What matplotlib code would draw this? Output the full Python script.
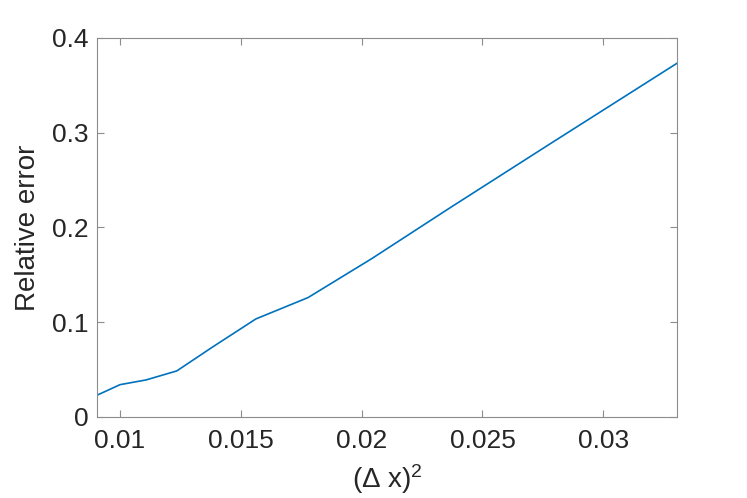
import matplotlib
matplotlib.use("Agg")
import matplotlib.pyplot as plt

# (Δx)^2 values and relative error
dx2 = [0.00907, 0.01000, 0.01108, 0.01235, 0.01384, 0.015625, 0.01778,
       0.02041, 0.02367, 0.02778, 0.03306]
rel_err = [0.0232, 0.0341, 0.0391, 0.0486, 0.0740, 0.1035, 0.1260,
           0.1670, 0.2210, 0.2880, 0.3735]

xticks = [0.01, 0.015, 0.02, 0.025, 0.03]
xticklabels = ["0.01", "0.015", "0.02", "0.025", "0.03"]
yticks = [0, 0.1, 0.2, 0.3, 0.4]
yticklabels = ["0", "0.1", "0.2", "0.3", "0.4"]

plt.rcParams['font.family'] = ['Liberation Sans', 'DejaVu Sans']
plt.rcParams['mathtext.fontset'] = 'custom'
plt.rcParams['mathtext.rm'] = 'Liberation Sans'
plt.rcParams['mathtext.it'] = 'Liberation Sans'

fig = plt.figure(figsize=(7.47, 4.98), dpi=100)
ax = fig.add_axes([0.1299, 0.1627, 0.7764, 0.7610])
ax.plot(dx2, rel_err, color='#0072BD', lw=1.2)

ax.set_xlim(0.00905, 0.03305)
ax.set_ylim(0, 0.4)
ax.set_xticks(xticks)
ax.set_xticklabels(xticklabels)
ax.set_yticks(yticks)
ax.set_yticklabels(yticklabels)

tc = '#262626'
ax.tick_params(direction='in', top=True, right=True, length=5, width=0.8,
               color='#8c8c8c', labelsize=19, labelcolor=tc)
ax.tick_params(axis='x', pad=9)
ax.tick_params(axis='y', pad=6)
for s in ax.spines.values():
    s.set_color('#8c8c8c')
    s.set_linewidth(0.8)

ax.set_xlabel(r'($\Delta$ x)$^2$', fontsize=20, color=tc, labelpad=6)
ax.set_ylabel('Relative error', fontsize=20, color=tc, labelpad=8)

fig.savefig('out.png', dpi=100)
